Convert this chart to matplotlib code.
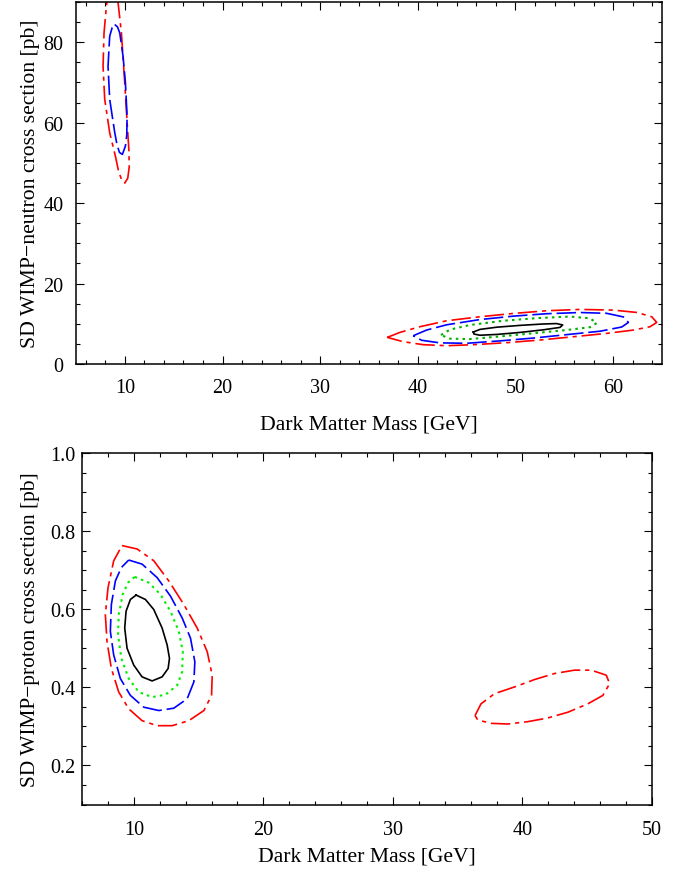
import matplotlib
matplotlib.use('Agg')
import matplotlib.pyplot as plt
from matplotlib.ticker import MultipleLocator, FormatStrFormatter

plt.rcParams['font.family'] = ['Liberation Serif', 'DejaVu Serif']
plt.rcParams['lines.scale_dashes'] = False

# ---------------- data: top panel (SD WIMP-neutron) ----------------
tl_red_x = [8.70, 9.10, 9.30, 9.65, 9.99, 10.26, 10.42, 10.45, 10.30, 10.00, 9.70, 9.35, 9.05, 8.45, 7.94, 7.77, 7.87, 8.11, 8.30, 8.70]
tl_red_y = [97.0, 93.5, 90.0, 82.3, 69.9, 59.0, 53.0, 49.0, 46.2, 45.0, 45.6, 48.0, 51.5, 57.5, 65.8, 74.0, 82.3, 88.9, 93.0, 97.0]
tl_blue_x = [8.97, 9.25, 9.48, 9.82, 10.06, 10.23, 10.20, 10.06, 9.75, 9.45, 9.20, 8.97, 8.45, 8.28, 8.45, 8.70, 8.97]
tl_blue_y = [84.4, 83.8, 82.3, 76.5, 69.9, 61.6, 57.0, 54.2, 52.1, 52.6, 54.5, 57.5, 65.8, 74.0, 81.5, 83.6, 84.4]

tr_red_x = [36.87, 38.17, 40.22, 42.95, 46.36, 49.78, 53.19, 56.61, 60.02, 62.41, 63.95, 64.46, 63.78, 62.07, 59.34, 55.93, 52.51, 49.10, 45.68, 42.95, 40.56, 38.51, 36.87]
tr_red_y = [6.62, 7.86, 9.27, 10.75, 11.75, 12.57, 13.24, 13.57, 13.40, 12.82, 11.75, 10.34, 9.27, 8.44, 7.61, 6.78, 5.96, 5.30, 4.80, 4.55, 4.80, 5.54, 6.62]
tr_blue_x = [39.53, 40.90, 42.95, 46.36, 49.78, 53.19, 56.61, 59.34, 61.05, 61.56, 60.88, 58.66, 55.24, 51.83, 48.41, 45.00, 42.26, 40.39, 39.53]
tr_blue_y = [7.03, 8.44, 9.75, 11.05, 11.90, 12.50, 12.80, 12.60, 11.70, 10.34, 9.20, 8.15, 7.30, 6.45, 5.75, 5.15, 5.25, 5.90, 7.03]
tr_green_x = [42.37, 43.29, 45.34, 48.75, 52.17, 55.58, 57.63, 58.32, 57.63, 55.24, 51.83, 48.41, 45.34, 43.29, 42.37]
tr_green_y = [7.20, 8.55, 9.70, 10.75, 11.40, 11.80, 11.35, 10.18, 9.15, 8.45, 7.65, 6.85, 6.20, 6.30, 7.20]
tr_black_x = [45.68, 46.36, 48.07, 50.46, 52.85, 54.22, 54.83, 54.56, 52.85, 50.46, 48.07, 46.36, 45.75, 45.68]
tr_black_y = [7.95, 8.60, 9.15, 9.60, 9.95, 10.05, 9.70, 9.10, 8.50, 7.85, 7.35, 7.15, 7.45, 7.95]

# ---------------- data: bottom panel (SD WIMP-proton) ----------------
bl_red_x = [9.091, 10.251, 11.54, 12.701, 13.861, 14.892, 15.665, 16.052, 16.0, 15.407, 14.247, 12.959, 11.798, 10.638, 9.607, 8.834, 8.266, 7.931, 7.802, 8.009, 8.447, 9.091]
bl_red_y = [0.7629, 0.7543, 0.7241, 0.6724, 0.6121, 0.5517, 0.4914, 0.4311, 0.3793, 0.3405, 0.3147, 0.3018, 0.3018, 0.3147, 0.3449, 0.3880, 0.4483, 0.5173, 0.5862, 0.6552, 0.7241, 0.7629]
bl_blue_x = [9.607, 10.638, 11.798, 12.83, 13.732, 14.376, 14.711, 14.634, 14.119, 13.087, 11.927, 10.767, 9.736, 8.962, 8.447, 8.189, 8.266, 8.576, 9.04, 9.607]
bl_blue_y = [0.7259, 0.7155, 0.6810, 0.6336, 0.5776, 0.5259, 0.4655, 0.4138, 0.3707, 0.3466, 0.3406, 0.3492, 0.3793, 0.4224, 0.4828, 0.5431, 0.6121, 0.6724, 0.7069, 0.7259]
bl_green_x = [10.071, 11.154, 12.056, 12.83, 13.474, 13.783, 13.732, 13.345, 12.443, 11.412, 10.38, 9.607, 9.04, 8.782, 8.834, 9.143, 9.555, 10.071]
bl_green_y = [0.6828, 0.6681, 0.6379, 0.5948, 0.5431, 0.4914, 0.4397, 0.4052, 0.3811, 0.3750, 0.3880, 0.4224, 0.4742, 0.5345, 0.5862, 0.6379, 0.6681, 0.6828]
bl_black_x = [10.174, 10.896, 11.54, 12.185, 12.572, 12.752, 12.649, 12.185, 11.412, 10.638, 9.994, 9.478, 9.298, 9.401, 9.736, 10.174]
bl_black_y = [0.6362, 0.6250, 0.5992, 0.5517, 0.5086, 0.4742, 0.4483, 0.4268, 0.4164, 0.4268, 0.4569, 0.5000, 0.5517, 0.5948, 0.6250, 0.6362]
br_red_x = [36.34, 36.80, 37.84, 39.38, 40.93, 42.48, 44.02, 45.31, 46.47, 46.73, 46.21, 45.05, 43.51, 41.96, 40.41, 38.87, 37.58, 36.55, 36.34]
br_red_y = [0.3277, 0.3578, 0.3837, 0.4009, 0.4199, 0.4354, 0.4440, 0.4440, 0.4311, 0.4095, 0.3794, 0.3578, 0.3363, 0.3216, 0.3121, 0.3061, 0.3078, 0.3165, 0.3277]

top_xticks = [10, 20, 30, 40, 50, 60]
top_yticks = [0, 20, 40, 60, 80]
bot_xticks = [10, 20, 30, 40, 50]
bot_yticks = [0.2, 0.4, 0.6, 0.8, 1.0]

RED = '#ff0000'
BLUE = '#0000ff'
GREEN_TOP = '#00b000'
GREEN_BOT = '#00ee00'
BLACK = '#000000'
LS_RED = (0, (14, 3.5, 3, 3.5))
LS_BLUE = (0, (14, 3.5))
LS_GREEN = (0, (1.8, 3.0))
LW = 1.2

fig = plt.figure(figsize=(6.86, 8.79), dpi=100)
ax1 = fig.add_axes([76 / 686, 1 - 365 / 879, 586 / 686, 362 / 879])
ax2 = fig.add_axes([82 / 686, 1 - 805.5 / 879, 570 / 686, 351.5 / 879])

def style(ax, xt, yt, xminor, yminor, ypad, xpad, yfmt):
    for s in ax.spines.values():
        s.set_linewidth(1.1)
    ax.set_xticks(xt)
    ax.set_yticks(yt)
    ax.xaxis.set_minor_locator(MultipleLocator(xminor))
    ax.yaxis.set_minor_locator(MultipleLocator(yminor))
    ax.yaxis.set_major_formatter(FormatStrFormatter(yfmt))
    ax.tick_params(which='both', direction='in', top=True, right=True, labelsize=14.5, width=0.8)
    ax.tick_params(which='major', length=5.5)
    ax.tick_params(which='minor', length=3)
    ax.tick_params(axis='x', which='both', pad=xpad)
    ax.tick_params(axis='y', which='both', pad=ypad)

# top panel
ax1.plot(tl_red_x, tl_red_y, color=RED, lw=LW, ls=LS_RED)
ax1.plot(tl_blue_x, tl_blue_y, color=BLUE, lw=LW, ls=LS_BLUE)
ax1.plot(tr_red_x, tr_red_y, color=RED, lw=LW, ls=LS_RED)
ax1.plot(tr_blue_x, tr_blue_y, color=BLUE, lw=LW, ls=LS_BLUE)
ax1.plot(tr_green_x, tr_green_y, color=GREEN_TOP, lw=LW + 0.3, ls=LS_GREEN)
ax1.plot(tr_black_x, tr_black_y, color=BLACK, lw=LW)
ax1.set_xlim(5, 65)
ax1.set_ylim(0, 90)
style(ax1, top_xticks, top_yticks, 2, 5, 9, 10, '%d')
ax1.set_xlabel('Dark Matter Mass [GeV]', fontsize=15.6)
ax1.set_ylabel('SD WIMP\u2212neutron cross section [pb]', fontsize=15.6)
ax1.xaxis.set_label_coords(0.5, -0.14)
ax1.yaxis.set_label_coords(-0.062, 0.5)

# bottom panel
ax2.plot(bl_red_x, bl_red_y, color=RED, lw=LW, ls=LS_RED)
ax2.plot(bl_blue_x, bl_blue_y, color=BLUE, lw=LW, ls=LS_BLUE)
ax2.plot(bl_green_x, bl_green_y, color=GREEN_BOT, lw=LW + 0.3, ls=LS_GREEN)
ax2.plot(bl_black_x, bl_black_y, color=BLACK, lw=LW)
ax2.plot(br_red_x, br_red_y, color=RED, lw=LW, ls=LS_RED)
ax2.set_xlim(6, 50)
ax2.set_ylim(0.1, 1.0)
style(ax2, bot_xticks, bot_yticks, 2, 0.05, 5, 11, '%.1f')
ax2.set_xlabel('Dark Matter Mass [GeV]', fontsize=15.6)
ax2.set_ylabel('SD WIMP\u2212proton cross section [pb]', fontsize=15.4)
ax2.xaxis.set_label_coords(0.5, -0.12)
ax2.yaxis.set_label_coords(-0.074, 0.5)

fig.savefig('out.png', dpi=100)
